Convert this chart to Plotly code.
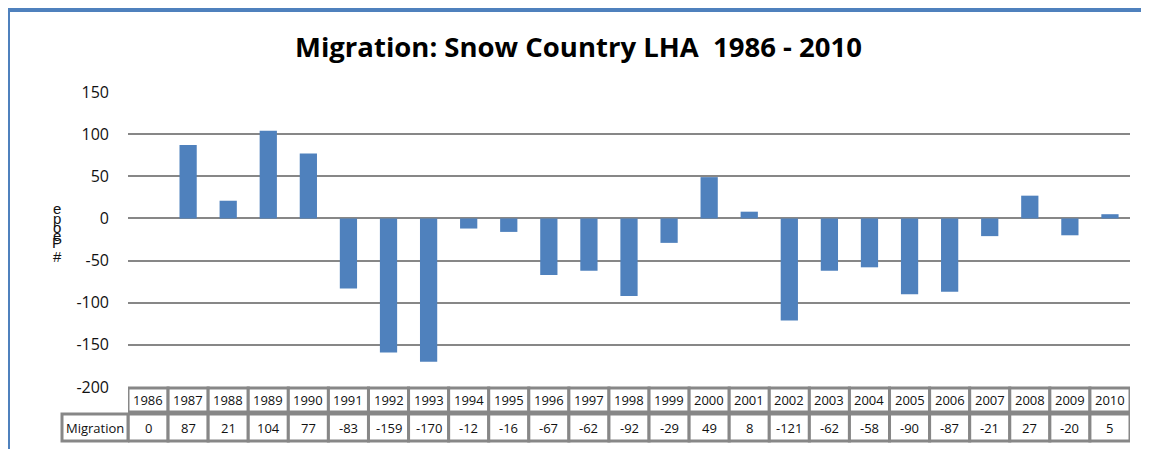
import plotly.graph_objects as go

years = list(range(1986, 2011))
migration = [0, 87, 21, 104, 77, -83, -159, -170, -12, -16, -67, -62, -92, -29,
             49, 8, -121, -62, -58, -90, -87, -21, 27, -20, 5]
row_label = "Migration"
y_ticks = [150, 100, 50, 0, -50, -100, -150, -200]
title_text = "Migration: Snow Country LHA  1986 - 2010"
axis_chars = "epoeP#"   # the original's axis title, stacked glyph by glyph

BLUE = "#4F81BD"
GRID = "#878787"
FONT = "Open Sans"

# the page adds an 8px body margin, so the figure is 8px smaller than the window
W, H = 1141, 441
PLOT_TOP, PLOT_BOT = 92, 387      # screen pixels of the plot area
PLOT_L, PLOT_R = 128, 1130
PH = PLOT_BOT - PLOT_TOP
PW = PLOT_R - PLOT_L


def py(pix):
    return (PLOT_BOT - pix) / PH


def px_(pix):
    return (pix - PLOT_L) / PW


fig = go.Figure()
fig.add_trace(go.Bar(x=years, y=migration, marker=dict(color=BLUE, line=dict(width=0)),
                     width=0.43, hoverinfo="x+y"))

shapes = []
annotations = []
cell_font = dict(size=13, color="#111", family=FONT)

# data table under the chart
r1 = (py(388), py(412))
r2 = (py(414), py(441))
for yr, val in zip(years, migration):
    for (y0, y1), txt in ((r1, str(yr)), (r2, str(val))):
        shapes.append(dict(type="rect", xref="x", yref="paper", x0=yr - 0.5, x1=yr + 0.5,
                           y0=y0, y1=y1, line=dict(color=GRID, width=3), fillcolor="white",
                           layer="above"))
        annotations.append(dict(x=yr, y=(y0 + y1) / 2, xref="x", yref="paper", text=txt,
                                xanchor="center", yanchor="middle",
                                showarrow=False, font=cell_font))
# row header sits left of the axis, so it goes in paper coords
shapes.append(dict(type="rect", xref="paper", yref="paper", x0=px_(62), x1=0,
                   y0=r2[0], y1=r2[1], line=dict(color=GRID, width=3), fillcolor="white",
                   layer="above"))
annotations.append(dict(x=px_(95), y=(r2[0] + r2[1]) / 2, xref="paper",
                        yref="paper", text=row_label, showarrow=False,
                        xanchor="center", yanchor="middle", font=cell_font))

for ch, pix in zip(axis_chars, [208, 218, 227, 235, 243, 256]):
    annotations.append(dict(x=px_(57), y=py(pix), xref="paper", yref="paper",
                            xanchor="center", yanchor="middle",
                            text=ch, showarrow=False, font=dict(size=15, color="#111",
                                                                family="Liberation Sans")))

# blue frame on the top and left of the image
shapes.append(dict(type="line", xref="paper", yref="paper", x0=px_(4), x1=px_(1160),
                   y0=py(10), y1=py(10), line=dict(color=BLUE, width=4)))
shapes.append(dict(type="line", xref="paper", yref="paper", x0=px_(7.5), x1=px_(7.5),
                   y0=py(8), y1=py(460), line=dict(color=BLUE, width=5)))

fig.update_layout(
    width=W, height=H,
    margin=dict(l=PLOT_L - 8, r=W - (PLOT_R - 8), t=PLOT_TOP - 8, b=H - (PLOT_BOT - 8),
                autoexpand=False),
    paper_bgcolor="white", plot_bgcolor="white",
    title=dict(text="<b>" + title_text + "</b>", x=0.5, xanchor="center",
               y=1 - 39 / H, yanchor="middle",
               font=dict(size=27.5, color="black", family=FONT)),
    showlegend=False,
    bargap=0.57,
    xaxis=dict(range=[years[0] - 0.5, years[-1] + 0.5], showticklabels=False,
               showgrid=False, zeroline=False, showline=False, ticks=""),
    yaxis=dict(range=[-200, 150], tickvals=y_ticks, ticktext=[str(v) for v in y_ticks],
               showgrid=True, gridcolor=GRID,
               gridwidth=2, zeroline=True, zerolinecolor=GRID, zerolinewidth=2,
               showline=False, ticks="", ticklabelstandoff=18,
               tickfont=dict(size=16, color="#111", family=FONT)),
    shapes=shapes,
    annotations=annotations,
)

fig.write_html("out.html")
